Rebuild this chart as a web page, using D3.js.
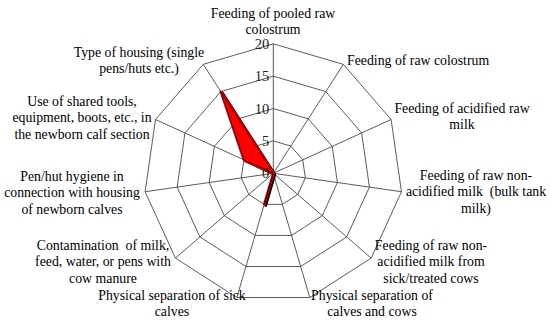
<!DOCTYPE html>
<html><head><meta charset="utf-8">
<script src="https://cdn.jsdelivr.net/npm/d3@7"></script>
<style>body{margin:0;background:#fff}svg{display:block}text,tspan{white-space:pre;font-family:'Liberation Serif','Times New Roman',serif}</style>
</head><body>
<svg id="c" width="550" height="322"></svg>
<script>
const categories = [
  "Feeding of pooled raw colostrum",
  "Feeding of raw colostrum",
  "Feeding of acidified raw milk",
  "Feeding of raw non-acidified milk  (bulk tank milk)",
  "Feeding of raw non-acidified milk from sick/treated cows",
  "Physical separation of calves and cows",
  "Physical separation of sick calves",
  "Contamination  of milk, feed, water, or pens with cow manure",
  "Pen/hut hygiene in connection with housing of newborn calves",
  "Use of shared tools, equipment, boots, etc., in the newborn calf section",
  "Type of housing (single pens/huts etc.)"
];
const labelLines = [
  ["Feeding of pooled raw","colostrum"],
  ["Feeding of raw colostrum"],
  ["Feeding of acidified raw","milk"],
  ["Feeding of raw non-","acidified milk  (bulk tank","milk)"],
  ["Feeding of raw non-","acidified milk from","sick/treated cows"],
  ["Physical separation of","calves and cows"],
  ["Physical separation of sick","calves"],
  ["Contamination  of milk,","feed, water, or pens with","cow manure"],
  ["Pen/hut hygiene in","connection with housing","of newborn calves"],
  ["Use of shared tools,","equipment, boots, etc., in","the newborn calf section"],
  ["Type of housing (single","pens/huts etc.)"]
];
const values = [0, 0, 0, 0, 0, 0, 5, 0, 0, 5, 15];
const tickValues = [0, 5, 10, 15, 20];

// layout (not data)
const cx = 273.3, cy = 173.3, R = 129.5;
const labelLayout = [
  {x:273, y:13, a:"middle"}, {x:347, y:60, a:"start"}, {x:462, y:108, a:"middle"},
  {x:476, y:175, a:"middle"}, {x:431, y:245, a:"middle"}, {x:372, y:295, a:"middle"},
  {x:172, y:295, a:"middle"}, {x:103, y:245, a:"middle"}, {x:72, y:176, a:"middle"},
  {x:82, y:101, a:"middle"}, {x:139, y:52, a:"middle"}
];
const lineH = 16.5;
const font = "'Liberation Serif', 'Times New Roman', serif";
const fs = 13.8;

const svg = d3.select("#c");
const n = categories.length;
const r = d3.scaleLinear().domain([0, 20]).range([0, R]);
const ang = d3.scaleLinear().domain([0, n]).range([0, 2 * Math.PI]);
const g = svg.append("g").attr("transform", `translate(${cx},${cy})`);
const idx = d3.range(n);

const radial = d3.lineRadial().angle(i => ang(i)).curve(d3.curveLinearClosed);
tickValues.filter(t => t > 0).forEach(t => {
  g.append("path").attr("d", radial.radius(() => r(t))(idx))
    .attr("fill", "none").attr("stroke", "#4a4a4a").attr("stroke-width", 0.9);
});
idx.forEach(i => {
  const a = ang(i);
  g.append("line").attr("x1", 0).attr("y1", 0)
    .attr("x2", r(20) * Math.sin(a)).attr("y2", -r(20) * Math.cos(a))
    .attr("stroke", "#4a4a4a").attr("stroke-width", 0.9);
});

const dataLine = d3.lineRadial().angle((d, i) => ang(i)).radius(d => r(d)).curve(d3.curveLinearClosed);
g.append("path").attr("d", dataLine(values)).attr("transform", "translate(1.6,1.2)")
  .attr("fill", "none").attr("stroke", "#000").attr("stroke-width", 2.6).attr("stroke-linejoin", "round");
g.append("path").attr("d", dataLine(values))
  .attr("fill", "#ff0000").attr("stroke", "#ff0000").attr("stroke-width", 2.6).attr("stroke-linejoin", "round");
g.append("path").attr("d", dataLine(values))
  .attr("fill", "none").attr("stroke", "#000").attr("stroke-width", 0.7).attr("stroke-linejoin", "round");

tickValues.forEach(t => {
  g.append("text").attr("x", -4).attr("y", -r(t)).attr("dy", "0.35em")
    .attr("text-anchor", "end").style("font-family", font).style("font-size", "14.5px")
    .attr("fill", "#222").text(t);
});

labelLines.forEach((lines, i) => {
  const L = labelLayout[i];
  const t = svg.append("text").attr("text-anchor", L.a).style("font-family", font)
    .style("font-size", fs + "px").attr("fill", "#000");
  lines.forEach((s, k) => {
    t.append("tspan").attr("x", L.x).attr("y", L.y + k * lineH).attr("dy", "0.35em")
      .style("font-family", font).text(s);
  });
});
</script>
</body></html>
